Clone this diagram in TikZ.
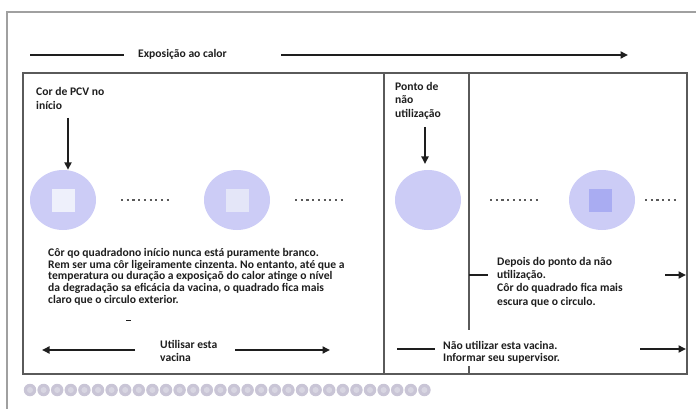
\documentclass[tikz,border=0pt]{standalone}
\usepackage{fontspec}
\setmainfont{Carlito}
\usetikzlibrary{arrows.meta,shapes.geometric}
\definecolor{lav}{HTML}{CCCCF6}
\definecolor{sqA}{HTML}{EEF0FB}
\definecolor{sqB}{HTML}{E4E6F8}
\definecolor{sqD}{HTML}{A9ACF2}
\definecolor{ink}{HTML}{1E1E1E}
\definecolor{frame}{HTML}{A0A0A0}
\definecolor{boxc}{HTML}{5A5A5A}
\definecolor{bead}{HTML}{C9C5D6}
\definecolor{beadin}{HTML}{D8D6E2}
\begin{document}
\lineskiplimit=-20pt
\frenchspacing
\begin{tikzpicture}[x=1pt,y=-1pt,
  txt/.style={font=\bfseries\fontsize{11.6}{#1}\selectfont, text=ink, align=left, inner sep=0pt, anchor=north west},
  txt/.default=13.3,
  arr/.style={line width=1.8pt, draw=ink, -{Triangle[length=7.5pt,width=7pt]}},
  plain/.style={line width=1.8pt, draw=ink},
  dots/.style={draw=boxc, line width=1.8pt, dash pattern=on 2.2pt off 3.5pt},
  disc/.style={ellipse, fill=lav, minimum width=66pt, minimum height=60pt, inner sep=0pt},
  sq/.style={minimum size=23pt, inner sep=0pt},
  boxline/.style={draw=boxc, line width=1.2pt},
  bd/.style={circle, fill=bead, minimum size=12.5pt, inner sep=0pt}
]
\useasboundingbox (0,0) rectangle (696,409);
% outer frame
\draw[draw=frame, line width=1.5pt] (7,409) -- (7,12) -- (696,12);
% heat exposure arrow
\node[txt, anchor=west] (title) at (138,54) {Exposição ao calor};
\coordinate (tl) at (30,55);
\coordinate (tr) at (628,55);
\draw[plain] (tl) -- ([xshift=-14pt]title.west |- tl);
\draw[arr] ([xshift=54pt]title.east |- tr) -- (tr);
% main box
\draw[boxline] (23,73) rectangle (687,374);
\coordinate (d1t) at (384,73); \coordinate (d1b) at (384,374);
\draw[boxline] (d1t) -- (d1b);
\coordinate (d2t) at (469,73); \coordinate (d2b) at (469,330);
\draw[boxline] (d2t) -- (d2b);
\coordinate (d2s) at (469,366); \coordinate (d2e) at (469,374);
\draw[boxline] (d2s) -- (d2e);
% circles
\node[disc] (c1) at (63,200) {};
\node[sq, fill=sqA] (s1) at (c1) {};
\node[disc] (c2) at (237,200) {};
\node[sq, fill=sqB] (s2) at (c2) {};
\node[disc] (c3) at (428,200) {};
\node[disc] (c4) at (602,200) {};
\node[sq, fill=sqD] (s4) at (600,200) {};
% dotted leaders
\coordinate (p1a) at (121,200); \coordinate (p1b) at (172,200);
\coordinate (p2a) at (295,200); \coordinate (p2b) at (346,200);
\coordinate (p3a) at (490,200); \coordinate (p3b) at (541,200);
\coordinate (p4a) at (645,200); \coordinate (p4b) at (679,200);
\draw[dots] (p1a) -- (p1b);
\draw[dots] (p2a) -- (p2b);
\draw[dots] (p3a) -- (p3b);
\draw[dots] (p4a) -- (p4b);
% labels with pointer arrows
\node[txt=14] (pcv) at (36,87) {Cor de PCV no\\início};
\coordinate (pcvA) at (68,118);
\draw[arr] (pcvA) -- (c1.north -| pcvA);
\node[txt=13.5] (ponto) at (395,82) {Ponto de\\não\\utilização};
\coordinate (pontoA) at (425,127);
\draw[arr] (pontoA) -- (425,164);
% explanations
\node[txt=11.7] (expl) at (48,248) {Côr qo quadradono início nunca está puramente branco.\\Rem ser uma côr ligeiramente cinzenta. No entanto, até que a\\temperatura ou duração a exposiçaõ do calor atinge o nível\\da degradação sa eficácia da vacina, o quadrado fica mais\\claro que o circulo exterior.};
\coordinate (m1) at (126,320); \coordinate (m2) at (131,320);
\draw[draw=ink, line width=1pt] (m1) -- (m2);
\node[txt] (after) at (497,257) {Depois do ponto da não\\utilização.\\Côr do quadrado fica mais\\escura que o circulo.};
\coordinate (tick) at (469,275);
\draw[plain] (tick) -- (488,275);
\coordinate (ra1) at (665,275); \coordinate (ra2) at (686,275);
\draw[arr] (ra1) -- (ra2);
% bottom row
\node[txt=13] (use) at (160,340) {Utilisar esta\\vacina};
\draw[arr] (135,350) -- (42,350);
\draw[arr] (235,350) -- (330,350);
\node[txt=12.5] (nouse) at (443,341) {Não utilizar esta vacina.\\Informar seu supervisor.};
\coordinate (nl1) at (397,349); \coordinate (nl2) at (435,349);
\draw[plain] (nl1) -- (nl2);
\coordinate (na1) at (640,349); \coordinate (na2) at (686,349);
\draw[arr] (na1) -- (na2);
% bead row
\foreach \i in {0,...,29} {
  \node[bd] (b\i) at ({30+\i*13.6},390) {};
  \fill[beadin] (b\i) circle (3pt);
}
\end{tikzpicture}
\end{document}
